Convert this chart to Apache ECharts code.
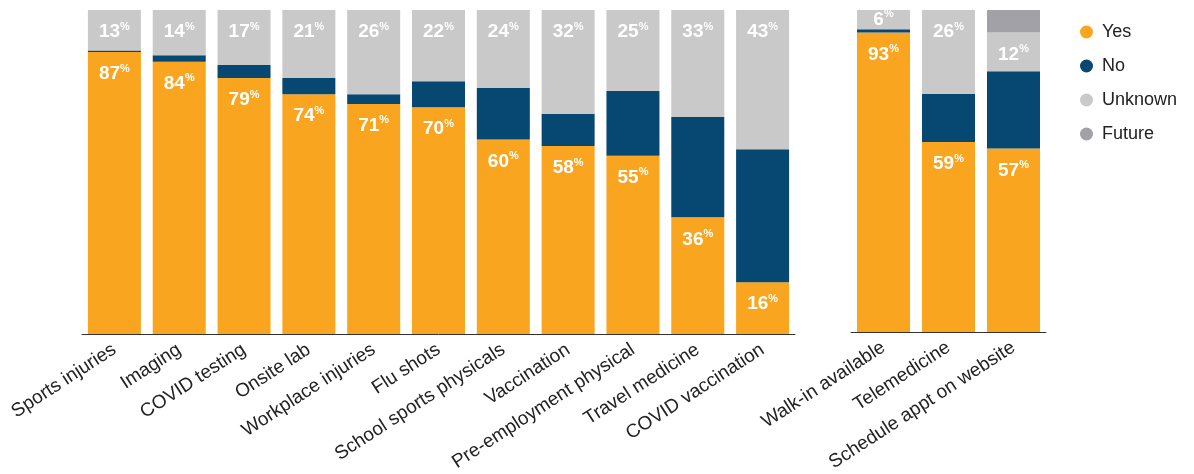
<!DOCTYPE html>
<html>
<head>
<meta charset="utf-8">
<script src="https://cdn.jsdelivr.net/npm/echarts@6/dist/echarts.min.js"></script>
<style>
  html, body { margin: 0; padding: 0; background: #fff; }
  #chart { width: 1194px; height: 474px; }
</style>
</head>
<body>
<div id="chart"></div>
<script>
// Services offered (left group)
const serviceCategories = ['Sports injuries', 'Imaging', 'COVID testing', 'Onsite lab', 'Workplace injuries',
  'Flu shots', 'School sports physicals', 'Vaccination', 'Pre-employment physical', 'Travel medicine', 'COVID vaccination'];
const serviceYes = [87, 84, 79, 74, 71, 70, 60, 58, 55, 36, 16];
const serviceNo = [0.5, 2, 4, 5, 3, 8, 16, 10, 20, 31, 41];
const serviceUnknown = [13, 14, 17, 21, 26, 22, 24, 32, 25, 33, 43];

// Patient access (right group)
const accessCategories = ['Walk-in available', 'Telemedicine', 'Schedule appt on website'];
const accessYes = [93, 59, 57];
const accessNo = [1, 15, 24];
const accessUnknown = [6, 26, 12];
const accessFuture = [0, 0, 7];

const COLORS = { Yes: '#F9A520', No: '#074872', Unknown: '#C9C9C9', Future: '#A1A1A7' };
const FONT = '"Liberation Sans", Arial, sans-serif';

const valueRich = {
  v: { fontSize: 19, fontWeight: 'bold', color: '#fff', fontFamily: FONT, lineHeight: 22 },
  p: { fontSize: 11, fontWeight: 'bold', color: '#fff', fontFamily: FONT, lineHeight: 13, verticalAlign: 'top' }
};

function labelled(values) {
  return values.map(v => ({
    value: v,
    label: {
      show: v > 0,
      position: v < 10 ? 'inside' : 'insideTop',
      distance: 11,
      formatter: p => '{v|' + Math.round(p.value) + '}{p|%}',
      rich: valueRich
    }
  }));
}

function series(name, values, idx, withLabels) {
  return {
    name: name,
    type: 'bar',
    stack: 'g' + idx,
    xAxisIndex: idx,
    yAxisIndex: idx,
    barWidth: 53,
    itemStyle: { color: COLORS[name] },
    emphasis: { disabled: true },
    data: withLabels ? labelled(values) : values
  };
}

const xAxisBase = {
  type: 'category',
  axisTick: { show: false },
  axisLine: { lineStyle: { color: '#333', width: 1 } },
  axisLabel: { interval: 0, rotate: 33, margin: 14, fontSize: 19, color: '#222', fontFamily: FONT }
};

const option = {
  animation: false,
  backgroundColor: '#fff',
  legend: {
    orient: 'vertical',
    left: 1075,
    top: 18,
    icon: 'circle',
    itemWidth: 13,
    itemHeight: 13,
    itemGap: 16,
    textStyle: { fontSize: 18, color: '#222', fontFamily: FONT, padding: [0, 0, 0, 4] },
    data: ['Yes', 'No', 'Unknown', 'Future']
  },
  grid: [
    { left: 82, top: 10, width: 713, height: 324 },
    { left: 851, top: 10, width: 195, height: 324 }
  ],
  xAxis: [
    Object.assign({ gridIndex: 0, data: serviceCategories }, xAxisBase),
    Object.assign({ gridIndex: 1, data: accessCategories }, xAxisBase)
  ],
  yAxis: [
    { type: 'value', gridIndex: 0, min: 0, max: 100, show: false },
    { type: 'value', gridIndex: 1, min: 0, max: 100, show: false }
  ],
  series: [
    series('Yes', serviceYes, 0, true),
    series('No', serviceNo, 0, false),
    series('Unknown', serviceUnknown, 0, true),
    series('Yes', accessYes, 1, true),
    series('No', accessNo, 1, false),
    series('Unknown', accessUnknown, 1, true),
    series('Future', accessFuture, 1, false)
  ]
};

echarts.init(document.getElementById('chart')).setOption(option);
</script>
</body>
</html>
